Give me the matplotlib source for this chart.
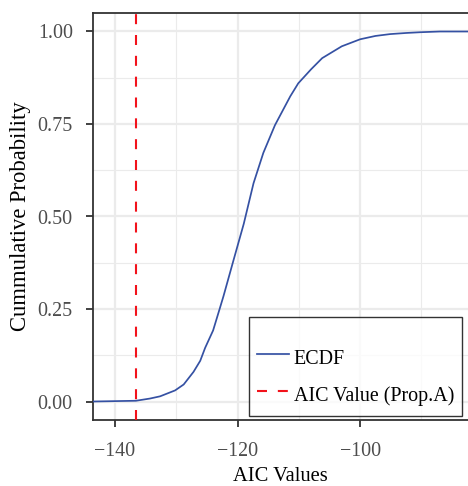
import matplotlib
matplotlib.use("Agg")
import matplotlib.pyplot as plt
from matplotlib import ticker

plt.rcParams['font.family'] = ['Liberation Serif', 'DejaVu Serif']
plt.rcParams['font.size'] = 14.4

# ECDF of AIC values
aic_values = [-143.6, -136.6, -134.3, -132.65, -130.2, -128.8, -127.2, -126.1,
              -125.3, -124.0, -122.9, -122.3, -120.7, -119.0, -117.4, -115.8,
              -113.9, -111.4, -110.1, -108.0, -106.2, -103.0, -100.0, -97.5,
              -95.1, -92.5, -90.2, -87.0, -82.4]
cum_prob = [0.0, 0.002, 0.008, 0.014, 0.030, 0.046, 0.080, 0.110,
            0.145, 0.192, 0.252, 0.285, 0.380, 0.480, 0.590, 0.672,
            0.747, 0.825, 0.860, 0.898, 0.928, 0.960, 0.979, 0.988,
            0.993, 0.996, 0.998, 1.0, 1.0]
aic_prop_a = -136.6

x_ticks = [-140, -120, -100]
y_ticks = [0.0, 0.25, 0.5, 0.75, 1.0]

fig = plt.figure(figsize=(4.68, 4.86), dpi=100)
ax = fig.add_axes([93 / 468, 66 / 486, 375 / 468, 407 / 486])

ax.plot(aic_values, cum_prob, color='#3551A3', lw=1.25, label='ECDF', zorder=3)
ax.axvline(aic_prop_a, color='#F2121B', lw=1.5, dashes=(4.8, 5.2),
           label='AIC Value (Prop.A)', zorder=3)

ax.set_xlim(-143.6, -82.4)
ax.set_ylim(-0.05, 1.05)
ax.set_xticks(x_ticks)
ax.set_yticks(y_ticks)
ax.xaxis.set_major_formatter(ticker.FuncFormatter(lambda v, p: '\u2212%d' % abs(v) if v < 0 else '%d' % v))
ax.yaxis.set_major_formatter(ticker.FormatStrFormatter('%.2f'))
ax.xaxis.set_minor_locator(ticker.MultipleLocator(10))
ax.yaxis.set_minor_locator(ticker.MultipleLocator(0.125))

# ggplot-like grid
ax.grid(True, which='major', color='#EBEBEB', lw=1.6, zorder=0)
ax.grid(True, which='minor', color='#EBEBEB', lw=0.8, zorder=0)
ax.set_axisbelow(True)

for s in ['left', 'top', 'bottom']:
    ax.spines[s].set_color('#333333')
    ax.spines[s].set_linewidth(1.3)
ax.spines['right'].set_visible(False)

ax.tick_params(which='major', length=5, width=1.3, color='#333333',
               labelcolor='#4D4D4D', labelsize=14.4)
ax.tick_params(axis='y', pad=9.5)
ax.tick_params(axis='x', pad=10.5)
ax.tick_params(which='minor', length=0)

ax.set_xlabel('AIC Values', fontsize=14.8, labelpad=4.5)
ax.set_ylabel('Cummulative Probability', fontsize=16.3, labelpad=5)

leg = ax.legend(loc='lower right', bbox_to_anchor=(0.984, 0.01), borderaxespad=0,
                fancybox=False, frameon=True, fontsize=14.4, handlelength=1.6,
                handleheight=1.7, handletextpad=0.25, labelspacing=0.5,
                borderpad=0.4, title=' ', title_fontsize=7)
leg.get_frame().set_edgecolor('black')
leg.get_frame().set_linewidth(1.0)

fig.savefig('out.png', dpi=100)
